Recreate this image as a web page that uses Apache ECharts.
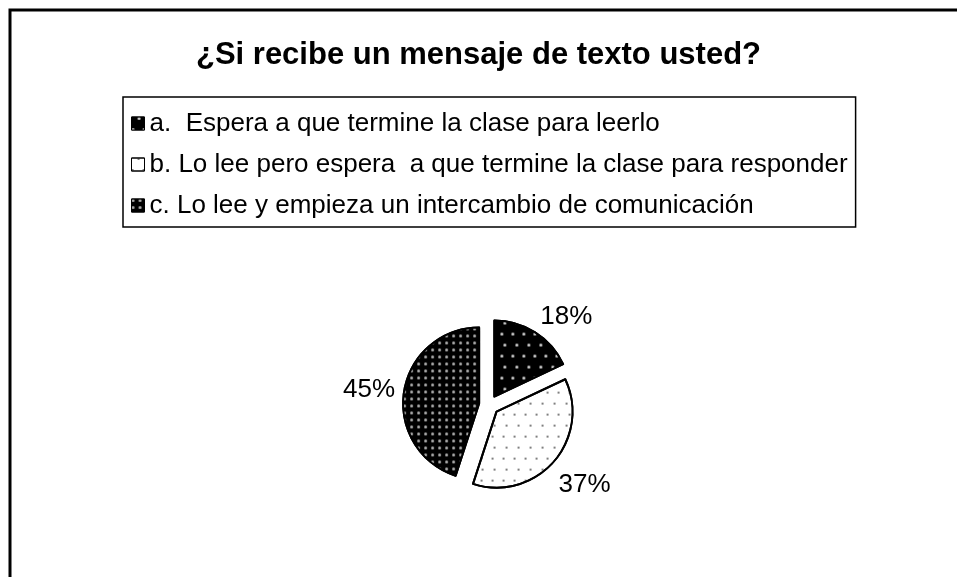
<!DOCTYPE html>
<html>
<head>
<meta charset="utf-8">
<script src="https://cdn.jsdelivr.net/npm/echarts@6/dist/echarts.min.js"></script>
<style>
  html, body { margin: 0; padding: 0; background: #fff; }
  #chart { width: 957px; height: 577px; }
</style>
</head>
<body>
<div id="chart"></div>
<script>
const titleText = '¿Si recibe un mensaje de texto usted?';
const categories = [
    'a.  Espera a que termine la clase para leerlo',
    'b. Lo lee pero espera  a que termine la clase para responder',
    'c. Lo lee y empieza un intercambio de comunicación',
];
const percents = [18, 37, 45];

// patrones tipo Excel en blanco y negro
const sliceStyles = [
    { color: '#000', decal: { symbol: 'circle', color: '#d8d8d8', dashArrayX: [[3, 8], [0, 5.5, 3, 2.5]], dashArrayY: [3, 8], symbolSize: 1 } },
    { color: '#fff', decal: { symbol: 'circle', color: '#555', dashArrayX: [[2, 9], [0, 5.5, 2, 3.5]], dashArrayY: [2, 9], symbolSize: 1 } },
    { color: '#000', decal: { symbol: 'circle', color: '#b0b0b0', dashArrayX: [3, 4], dashArrayY: [3, 4], symbolSize: 1 } },
];
// pequeño ajuste de las etiquetas para imitar la colocación de Excel
const labelNudge = [[-4, -9], [-6, 18], [4, 0]];

const chart = echarts.init(document.getElementById('chart'), null, { renderer: 'canvas' });

chart.setOption({
    animation: false,
    backgroundColor: '#fff',
    title: {
        text: titleText,
        left: 'center',
        top: 40,
        padding: 0,
        textStyle: { fontFamily: 'Liberation Sans, Arial', fontWeight: 'bold', fontSize: 31, color: '#000' },
    },
    legend: {
        orient: 'vertical',
        left: 123,
        top: 97,
        padding: [12, 8, 7, 8],
        itemGap: 12,
        itemWidth: 13,
        itemHeight: 13,
        borderColor: '#000',
        borderWidth: 1.5,
        selectedMode: false,
        textStyle: { fontFamily: 'Liberation Sans, Arial', fontSize: 26, color: '#000', lineHeight: 29 },
        data: categories.map((name, i) => ({
            name,
            icon: 'rect',
            itemStyle: { color: sliceStyles[i].color, borderColor: '#000', borderWidth: 1, decal: sliceStyles[i].decal },
        })),
    },
    graphic: [{
        type: 'rect',
        shape: { x: 10, y: 10, width: 1000, height: 700 },
        style: { fill: 'none', stroke: '#000', lineWidth: 3 },
        silent: true,
    }],
    series: [{
        type: 'pie',
        center: [489, 405],
        radius: 76,
        startAngle: 90,
        clockwise: true,
        selectedMode: 'multiple',
        selectedOffset: 10,
        label: {
            show: true,
            position: 'outside',
            formatter: '{c}%',
            fontFamily: 'Liberation Sans, Arial',
            fontSize: 26,
            color: '#000',
        },
        labelLine: { show: false, length: 8, length2: 0 },
        labelLayout: (params) => ({ dx: labelNudge[params.dataIndex][0], dy: labelNudge[params.dataIndex][1] }),
        itemStyle: { borderColor: '#000', borderWidth: 2 },
        emphasis: { disabled: true },
        data: categories.map((name, i) => ({
            name,
            value: percents[i],
            selected: true,
            itemStyle: { color: sliceStyles[i].color, decal: sliceStyles[i].decal },
        })),
    }],
});
</script>
</body>
</html>
